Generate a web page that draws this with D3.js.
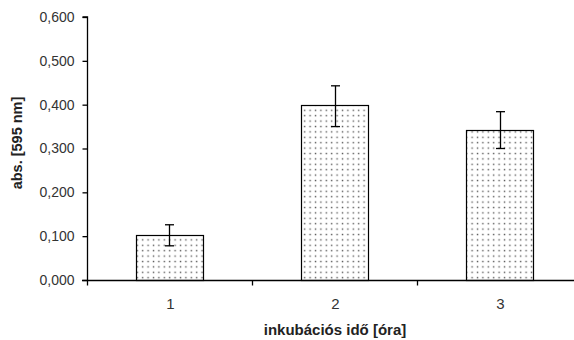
<!DOCTYPE html>
<html>
<head>
<meta charset="utf-8">
<script src="https://cdn.jsdelivr.net/npm/d3@7"></script>
<style>
  html, body { margin: 0; padding: 0; background: #fff; }
  svg { display: block; font-family: "Liberation Sans", Arial, sans-serif; }
</style>
</head>
<body>
<svg id="chart" width="574" height="340"></svg>
<script>
// Absorbance at 595 nm after 1, 2 and 3 hours of incubation
const categories = ["1", "2", "3"];
const absorbance = [0.103, 0.399, 0.342];
const errorUp = [0.023, 0.044, 0.042];
const errorDown = [0.025, 0.049, 0.042];
const yTicks = [0, 0.1, 0.2, 0.3, 0.4, 0.5, 0.6];
const yLabel = "abs. [595 nm]";
const xLabel = "inkubációs idő [óra]";

const svg = d3.select("#chart");
const plotLeft = 87, plotRight = 582, plotTop = 17, plotBottom = 280;

const x = d3.scaleBand().domain(categories).range([plotLeft, plotRight]).paddingInner(0.595).paddingOuter(0.2975);
const y = d3.scaleLinear().domain([0, 0.6]).range([plotBottom, plotTop]);

// Dotted fill
const defs = svg.append("defs");
const pat = defs.append("pattern")
  .attr("id", "dots").attr("patternUnits", "userSpaceOnUse")
  .attr("width", 5.4).attr("height", 5.4);
pat.append("rect").attr("width", 5.4).attr("height", 5.4).attr("fill", "#fff");
pat.append("rect").attr("x", 1.6).attr("y", 1.6).attr("width", 1.4).attr("height", 1.4).attr("fill", "#555");

// Bars
svg.append("g").selectAll("rect").data(categories).join("rect")
  .attr("x", d => Math.round(x(d)) + 0.5)
  .attr("y", (d, i) => Math.round(y(absorbance[i])) + 0.5)
  .attr("width", Math.round(x.bandwidth()))
  .attr("height", (d, i) => Math.round(y(0)) - Math.round(y(absorbance[i])))
  .attr("fill", "url(#dots)").attr("stroke", "#000").attr("stroke-width", 1.2);

// Error bars
const eb = svg.append("g").attr("stroke", "#000").attr("stroke-width", 1.3);
categories.forEach((c, i) => {
  const cx = Math.round(x(c) + x.bandwidth() / 2) + 0.5;
  const y1 = y(absorbance[i] + errorUp[i]);
  const y2 = y(absorbance[i] - errorDown[i]);
  eb.append("line").attr("x1", cx).attr("x2", cx).attr("y1", y1).attr("y2", y2);
  eb.append("line").attr("x1", cx - 4.5).attr("x2", cx + 4.5).attr("y1", y1).attr("y2", y1);
  eb.append("line").attr("x1", cx - 4.5).attr("x2", cx + 4.5).attr("y1", y2).attr("y2", y2);
});

// Y axis
const fmt = d => d3.format(".3f")(d).replace(".", ",");
const yAxis = svg.append("g").attr("transform", `translate(${plotLeft + 0.5},0)`)
  .call(d3.axisLeft(y).tickValues(yTicks).tickFormat(fmt).tickSize(5).tickPadding(8));
yAxis.select(".domain").attr("d", `M-5,${y(0.6)}H0V${y(0)}`).attr("stroke-width", 1.3);
yAxis.selectAll(".tick line").attr("stroke-width", 1.3);
yAxis.selectAll("text").attr("font-size", 14).attr("fill", "#333")
  .attr("font-family", "'Liberation Sans', Arial, sans-serif");

// X axis with ticks between categories
const xAxisG = svg.append("g").attr("transform", `translate(0,${plotBottom + 0.5})`);
xAxisG.append("line").attr("x1", plotLeft - 5).attr("x2", 574).attr("stroke", "#000").attr("stroke-width", 1.3);
const boundaries = categories.map(c => x(c) - x.step() * x.paddingInner() / 2);
xAxisG.selectAll(".sep").data(boundaries).join("line").attr("class", "sep")
  .attr("x1", d => Math.round(d) + 0.5).attr("x2", d => Math.round(d) + 0.5)
  .attr("y1", 0).attr("y2", 5).attr("stroke", "#000").attr("stroke-width", 1.3);
xAxisG.selectAll(".lab").data(categories).join("text").attr("class", "lab")
  .attr("x", d => x(d) + x.bandwidth() / 2 + 1).attr("y", 28)
  .attr("text-anchor", "middle").attr("font-size", 15).attr("fill", "#333").text(d => d);

// Axis titles
svg.append("text").attr("x", 335).attr("y", 335).attr("text-anchor", "middle")
  .attr("font-size", 15).attr("font-weight", "bold").attr("fill", "#222").text(xLabel);
svg.append("text").attr("transform", "translate(22,143) rotate(-90)").attr("text-anchor", "middle")
  .attr("font-size", 14.5).attr("font-weight", "bold").attr("fill", "#222").text(yLabel);
</script>
</body>
</html>
